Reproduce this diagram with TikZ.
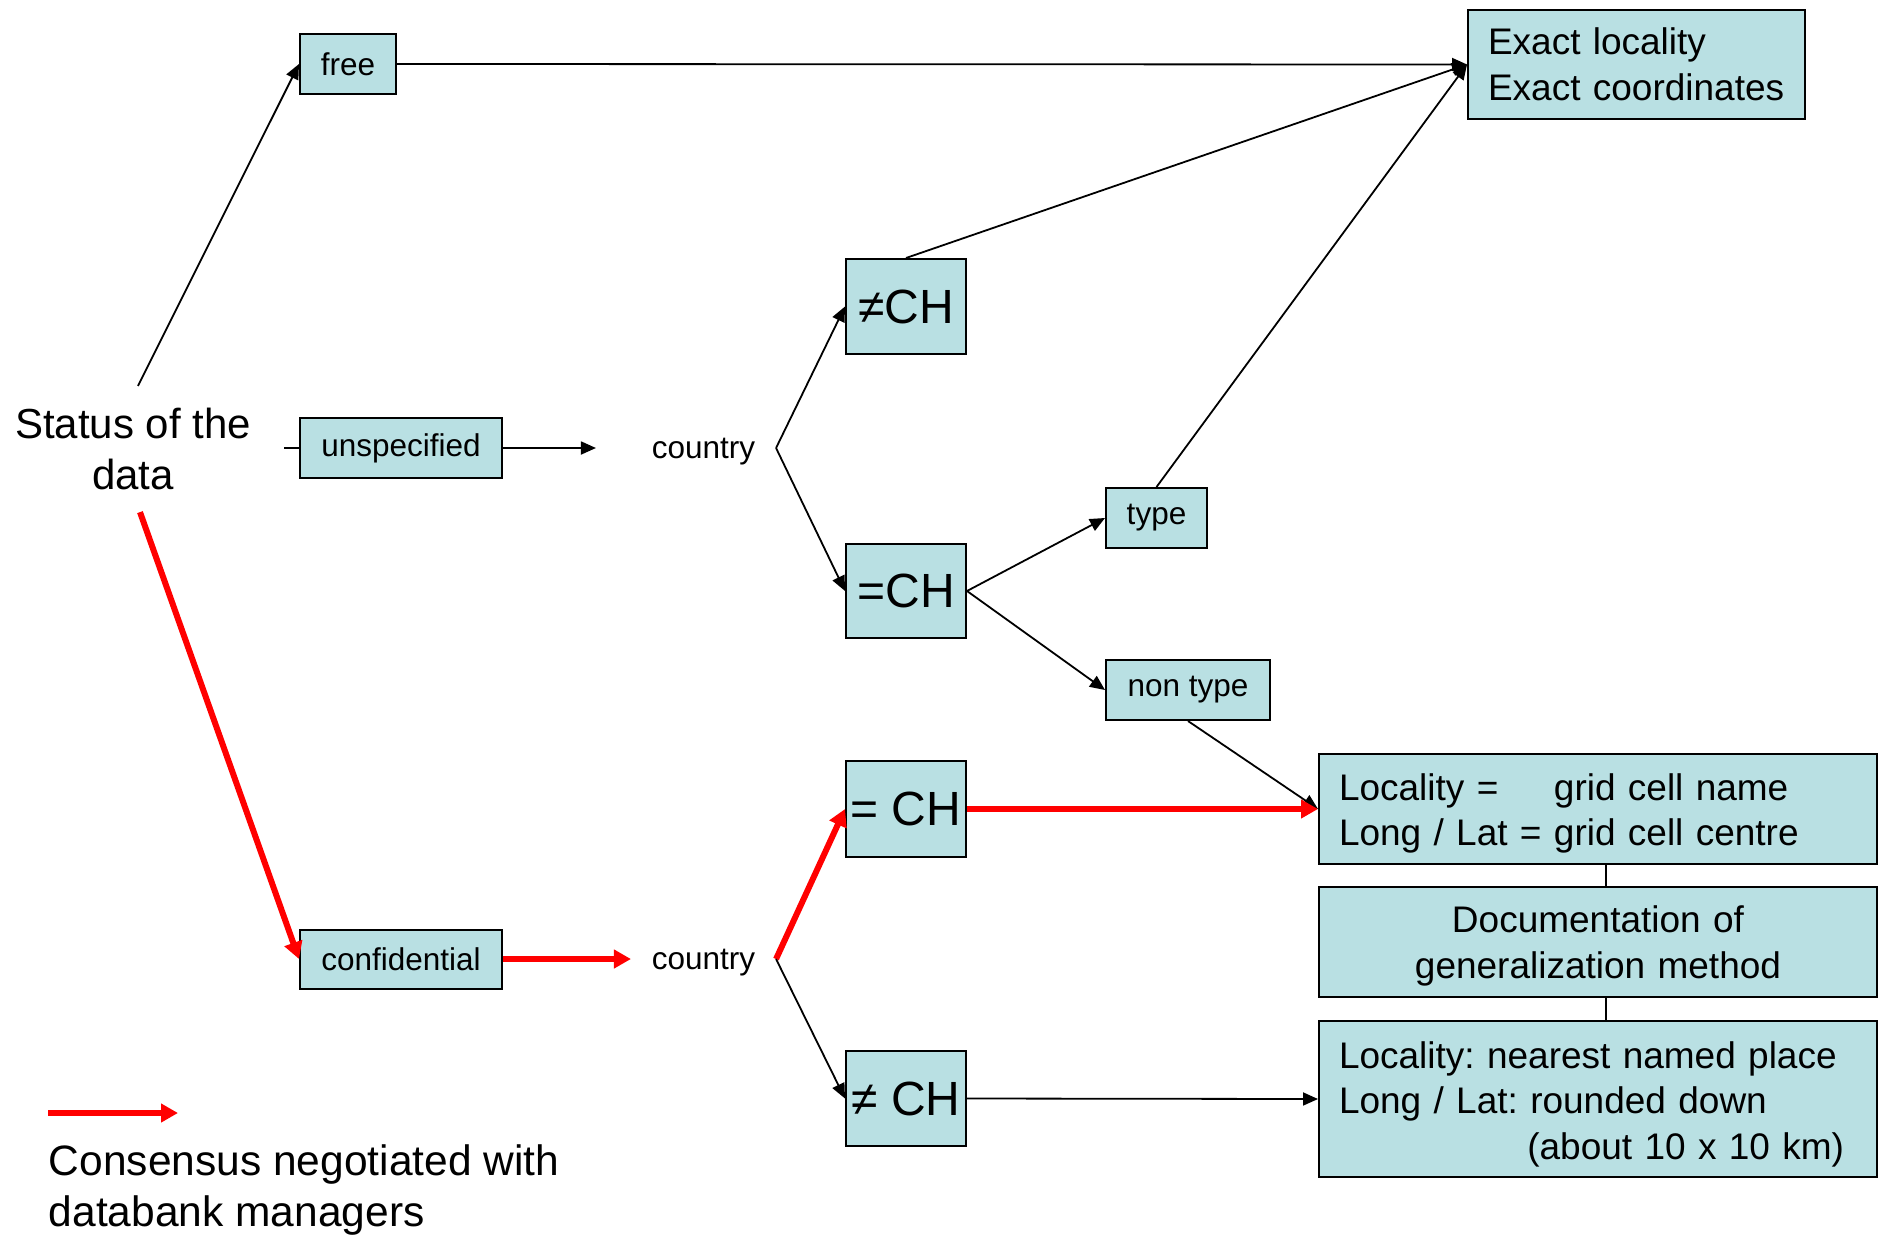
\documentclass[tikz,border=0pt]{standalone}
\usepackage{fontspec}
\setmainfont{Liberation Sans}
\frenchspacing
\usetikzlibrary{arrows.meta,positioning}
\definecolor{boxblue}{RGB}{185,224,227}

\begin{document}
\begin{tikzpicture}[x=1pt,y=-1pt,line width=1.8pt,>={Triangle[length=15pt,width=13pt]},
  cellbox/.style={draw,line width=2pt,fill=boxblue,inner sep=0pt,font=\fontsize{31.5}{38}\selectfont},
  chbox/.style={draw,line width=2pt,fill=boxblue,inner sep=0pt,minimum width=120pt,minimum height=95pt,font=\fontsize{48}{58}\selectfont},
  infobox/.style={draw,line width=2pt,fill=boxblue,align=left,inner xsep=20pt,inner ysep=0pt,text width=#1,font=\fontsize{37}{45.6}\selectfont},
  plain/.style={inner xsep=20pt,text depth=0pt,font=\fontsize{31.5}{38}\selectfont},
  consensus/.style={red,line width=6pt,-{Triangle[length=17pt,width=18pt]}}]
\useasboundingbox (0,0) rectangle (1881,1234);
% left part
\node (status) [align=center,inner xsep=10pt,inner ysep=21pt,font=\fontsize{42}{51.6}\selectfont] at (133,449) {Status of the\\data};
\node (free) [cellbox,minimum width=96pt,minimum height=60pt] at (348,64) {free};
\node (unsp) [cellbox,minimum width=202pt,minimum height=60pt] at (401,448) {unspecified};
\node (conf) [cellbox,minimum width=202pt,minimum height=59pt] at (401,959) {confidential};
\coordinate (stub) at (284,448);
% countries
\node (ctryA) [plain] at (703.5,448) {country};
\node (ctryB) [plain] at (703.5,959) {country};
\node (neA) [chbox] at (906,306.5) {≠CH};
\node (eqA) [chbox,minimum height=94pt] at (906,591) {=CH};
\node (eqB) [chbox,minimum height=96pt] at (906,809) {= CH};
\node (neB) [chbox] at (906,1098.5) {≠ CH};
\node (type) [cellbox,minimum width=101pt,minimum height=60pt] at (1156.5,518) {type};
\node (nontype) [cellbox,minimum width=164pt,minimum height=60pt] at (1188,690) {non type};
% results
\node (exact) [infobox=297pt,minimum height=109pt] at (1636.5,64.5) {Exact locality\\Exact coordinates};
\node (grid) [infobox=518pt,minimum height=110pt] at (1598,809) {\begin{tabular}{@{}l@{\ }l@{}}\rule{0pt}{42pt}Locality = & grid cell name\\Long / Lat = & grid cell centre\end{tabular}};
\node (doc) [infobox=518pt,minimum height=110pt,align=center,below=21pt of grid] {\rule{0pt}{34.5pt}Documentation of\\generalization method};
\node (near) [infobox=518pt,minimum height=156pt,below=22pt of doc] {\rule{0pt}{37pt}Locality: nearest named place\\Long / Lat: rounded down\\\hspace*{\fill}(about 10 x 10 km)\rule{13pt}{0pt}};
% legend
\coordinate (legA) at (48,1113);
\coordinate (legB) at (178,1113);
\node (legtext) [anchor=west,align=left,inner sep=0pt,font=\fontsize{42.5}{50.4}\selectfont] at (48,1190) {Consensus negotiated with\\databank managers};
% connectors
\draw[->] ([xshift=5pt]status.north) -- (free.west);
\draw (stub) -- (unsp.west);
\draw[->,shorten >=35pt] (unsp.east) -- (ctryA.west);
\draw[consensus] ([xshift=7pt]status.south) -- (conf.west);
\draw[->] (free.east) -- (exact.west);
\draw[->] (neA.north) -- (exact.west);
\draw[->] (type.north) -- (exact.west);
\draw[->] (ctryA.east) -- (neA.west);
\draw[->] (ctryA.east) -- (eqA.west);
\draw[->] (eqA.east) -- (type.west);
\draw[->] (eqA.east) -- (nontype.west);
\draw[->] (nontype.south) -- (grid.west);
\draw[consensus] (conf.east) -- (ctryB.west);
\draw[consensus] (ctryB.east) -- (eqB.west);
\draw[->] (ctryB.east) -- (neB.west);
\draw[consensus] (eqB.east) -- (grid.west);
\draw[->] (neB.east) -- (near.west);
\draw ([xshift=8pt]grid.south) -- ([xshift=8pt]doc.north);
\draw ([xshift=8pt]doc.south) -- ([xshift=8pt]near.north);
\draw[consensus] (legA) -- (legB);
\end{tikzpicture}
\end{document}
